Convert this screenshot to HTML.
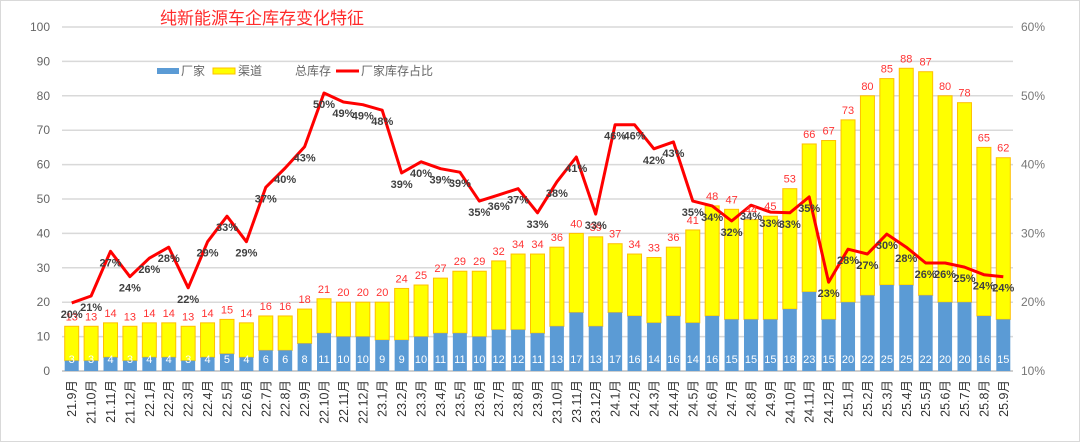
<!DOCTYPE html>
<html><head><meta charset="utf-8">
<style>
html,body{margin:0;padding:0;background:#fff;}
svg{display:block;font-family:"Liberation Sans","Noto Sans CJK SC",sans-serif;}
</style></head>
<body>
<svg id="chart" width="1080" height="442" viewBox="0 0 1080 442" xmlns="http://www.w3.org/2000/svg">
<rect x="0.5" y="0.5" width="1079" height="441" fill="#fff" stroke="#d9d9d9"/>
<text x="160" y="24" fill="#ff2a2a" font-size="17" font-family="Liberation Sans, Noto Sans CJK SC, sans-serif">纯新能源车企库存变化特征</text>
<g font-size="12" fill="#666">
<rect x="157" y="68" width="22" height="6" fill="#5b9bd5"/>
<text x="181" y="75">厂家</text>
<rect x="213" y="68" width="22" height="6" fill="#ffff00" stroke="#ffc000" stroke-width="1"/>
<text x="238" y="75">渠道</text>
<text x="295" y="75">总库存</text>
<line x1="336" y1="71" x2="359" y2="71" stroke="#ff0000" stroke-width="3"/>
<text x="361" y="75">厂家库存占比</text>
</g>
<g id="grid"></g><g id="bars"></g><g id="line"></g><g id="labels"></g><g id="axes"></g>
</svg>
<script>
const categories = ["21.9","21.10","21.11","21.12","22.1","22.2","22.3","22.4","22.5","22.6","22.7","22.8","22.9","22.10","22.11","22.12","23.1","23.2","23.3","23.4","23.5","23.6","23.7","23.8","23.9","23.10","23.11","23.12","24.1","24.2","24.3","24.4","24.5","24.6","24.7","24.8","24.9","24.10","24.11","24.12","25.1","25.2","25.3","25.4","25.5","25.6","25.7","25.8","25.9"];
const totalValues = [13,13,14,13,14,14,13,14,15,14,16,16,18,21,20,20,20,24,25,27,29,29,32,34,34,36,40,39,37,34,33,36,41,48,47,44,45,53,66,67,73,80,85,88,87,80,78,65,62];
const factoryValues = [3,3,4,3,4,4,3,4,5,4,6,6,8,11,10,10,9,9,10,11,11,10,12,12,11,13,17,13,17,16,14,16,14,16,15,15,15,18,23,15,20,22,25,25,22,20,20,16,15];
const ratioValues = [19.9,20.9,27.4,23.7,26.4,28,22.1,28.8,32.5,28.8,36.7,39.5,42.6,50.4,49.1,48.7,47.9,38.8,40.4,39.4,38.9,34.7,35.6,36.5,33,37.5,41.1,32.8,45.8,45.8,42.3,43.3,34.7,34,31.8,34.1,33.1,33,35.3,22.9,27.7,27,29.9,28,25.7,25.7,25.1,24,23.7];
const leftTicks = [0,10,20,30,40,50,60,70,80,90,100];
const rightTicks = ["10%","20%","30%","40%","50%","60%"];

const NS="http://www.w3.org/2000/svg";
const X0=62, X1=1013, Y0=371, Y1=27;
const step=(X1-X0)/categories.length;
const xc=i=>X0+step*(i+0.5);
const yL=v=>Y0-(v/100)*(Y0-Y1);
const yR=p=>Y0-((p-10)/50)*(Y0-Y1);
function mk(tag,attrs,parent,text){const e=document.createElementNS(NS,tag);for(const k in attrs)e.setAttribute(k,attrs[k]);if(text!==undefined)e.textContent=text;parent.appendChild(e);return e;}
const grid=document.getElementById('grid'),bars=document.getElementById('bars'),line=document.getElementById('line'),labels=document.getElementById('labels'),axes=document.getElementById('axes');

leftTicks.forEach(t=>{
  const g=mk('line',{x1:X0,x2:X1,y1:yL(t),y2:yL(t),stroke:t===0?'#bfbfbf':'#d9d9d9','stroke-width':1.5},grid);
  
  
  const tx=mk('text',{x:50,y:yL(t)+4,'text-anchor':'end','font-size':12,fill:'#666'},axes,String(t));
  
  
});
rightTicks.forEach((t,i)=>{
  const tx=mk('text',{x:1021,y:yR(10+i*10)+4,'font-size':12,fill:'#777'},axes,t);
  
  
});
const bw=14;
categories.forEach((c,i)=>{
  const x=xc(i);
  const f=factoryValues[i], t=totalValues[i];
  const ch=mk('rect',{x:x-bw/2,y:yL(t),width:bw,height:yL(f)-yL(t),fill:'#ffff00',stroke:'#ffc000','stroke-width':1},bars);
  
  
  const fb=mk('rect',{x:x-bw/2,y:yL(f),width:bw,height:Y0-yL(f),fill:'#5b9bd5'},bars);
  
  
  const fl=mk('text',{x:x,y:Y0-8,'text-anchor':'middle','font-size':11,fill:'#fff'},labels,String(f));
  
  
  const tl=mk('text',{x:x,y:yL(t)-6,'text-anchor':'middle','font-size':11,fill:'#ff3333'},labels,String(t));
  
  
  const xl=mk('text',{x:0,y:0,'text-anchor':'end','font-size':12.5,fill:'#333',transform:`translate(${x+4.5},380) rotate(-90)`},axes,c+'月');
  
  
});
const pts=ratioValues.map((p,i)=>xc(i).toFixed(1)+','+yR(p).toFixed(1)).join(' ');
const pl=mk('polyline',{points:pts,fill:'none',stroke:'#ff0000','stroke-width':3,'stroke-linejoin':'round'},line);


ratioValues.forEach((p,i)=>{
  const tl=mk('text',{x:xc(i),y:yR(p)+15,'text-anchor':'middle','font-size':11,'font-weight':'bold',fill:'#404040'},labels,Math.round(p)+'%');
  
  
});
</script>
</body></html>
